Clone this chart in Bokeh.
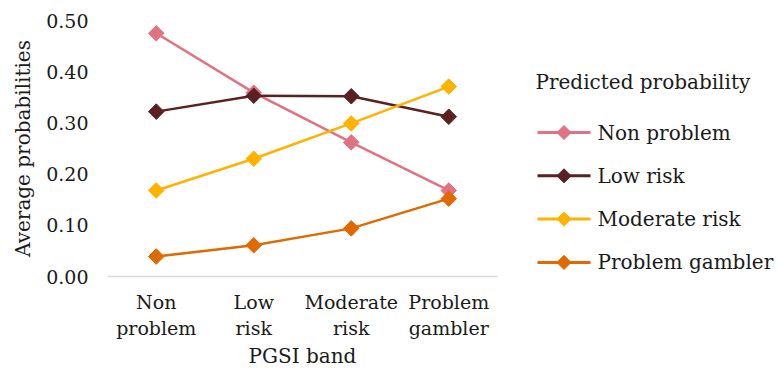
import math
from bokeh.plotting import figure
from bokeh.layouts import row
from bokeh.models import FixedTicker, Range1d
from bokeh.core.properties import value
from bokeh.embed import file_html
from bokeh.resources import INLINE

# PGSI bands on the x axis
bands = ["Non\nproblem", "Low\nrisk", "Moderate\nrisk", "Problem\ngambler"]

# Average predicted probabilities per band
non_problem = [0.475, 0.359, 0.262, 0.168]
low_risk = [0.322, 0.353, 0.352, 0.312]
moderate_risk = [0.168, 0.230, 0.299, 0.371]
problem_gambler = [0.039, 0.061, 0.094, 0.152]

series_names = ["Non problem", "Low risk", "Moderate risk", "Problem gambler"]
series_values = [non_problem, low_risk, moderate_risk, problem_gambler]
colors = ["#E07282", "#5A2120", "#FFB200", "#DE6A00"]

y_ticks = [0.0, 0.1, 0.2, 0.3, 0.4, 0.5]
y_tick_labels = ["0.00", "0.10", "0.20", "0.30", "0.40", "0.50"]

legend_title = "Predicted probability"

FONT = "DejaVu Serif"
TEXT_COLOR = "#1A1A1A"
x_pos = list(range(1, len(bands) + 1))

BORDER_TOP, BORDER_BOTTOM = 20, 95
PAGE_W, PAGE_H = 780, 371
CHART_W = 520

# ---- main chart -------------------------------------------------------
p = figure(width=CHART_W, height=PAGE_H, output_backend="svg", toolbar_location=None,
           x_range=Range1d(0.5, len(bands) + 0.5), y_range=Range1d(0, 0.5),
           min_border_left=107, min_border_right=23, min_border_top=BORDER_TOP,
           min_border_bottom=BORDER_BOTTOM)
p.outline_line_color = None
p.xgrid.visible = False
p.ygrid.visible = False

for vals, col in zip(series_values, colors):
    p.line(x_pos, vals, line_color=col, line_width=2.5)
    p.scatter(x_pos, vals, marker="square", size=11, angle=math.pi / 4,
              fill_color=col, line_color=col)

xa = p.xaxis[0]
xa.ticker = FixedTicker(ticks=x_pos)
xa.major_label_overrides = {i: b for i, b in zip(x_pos, bands)}
xa.axis_line_color = "#D9D9D9"
xa.axis_line_width = 1.5
xa.major_tick_line_color = None
xa.minor_tick_line_color = None
xa.major_label_text_font = FONT
xa.major_label_text_font_size = "19px"
xa.major_label_text_color = TEXT_COLOR
xa.major_label_standoff = 8
xa.axis_label = "PGSI band"
xa.axis_label_text_font = FONT
xa.axis_label_text_font_size = "20px"
xa.axis_label_text_font_style = "normal"
xa.axis_label_text_color = TEXT_COLOR
xa.axis_label_standoff = 2

ya = p.yaxis[0]
ya.ticker = FixedTicker(ticks=y_ticks)
ya.major_label_overrides = {t: l for t, l in zip(y_ticks, y_tick_labels)}
ya.axis_line_color = None
ya.major_tick_line_color = None
ya.minor_tick_line_color = None
ya.major_label_text_font = FONT
ya.major_label_text_font_size = "19px"
ya.major_label_text_color = TEXT_COLOR
ya.major_label_standoff = 13
ya.axis_label = "Average probabilities"
ya.axis_label_text_font = FONT
ya.axis_label_text_font_size = "20px"
ya.axis_label_text_font_style = "normal"
ya.axis_label_text_color = TEXT_COLOR
ya.axis_label_standoff = 8

# ---- legend panel: ranges map one unit to one page pixel (y grows down) ---
lg = figure(width=PAGE_W - CHART_W, height=PAGE_H, output_backend="svg",
            toolbar_location=None,
            x_range=Range1d(CHART_W, PAGE_W),
            y_range=Range1d(PAGE_H - BORDER_BOTTOM, BORDER_TOP),
            min_border_left=0, min_border_right=0,
            min_border_top=BORDER_TOP, min_border_bottom=BORDER_BOTTOM)
lg.axis.visible = False
lg.grid.visible = False
lg.outline_line_color = None

n = len(series_names)
row_y = [132 + 43.3 * i for i in range(n)]
lg.text(x=[535], y=[81], text=[legend_title], text_font=value(FONT),
        text_font_size="20px", text_color=TEXT_COLOR,
        text_align="left", text_baseline="middle")
lg.segment(x0=[537] * n, y0=row_y, x1=[590] * n, y1=row_y,
           line_color=colors, line_width=3)
lg.scatter(x=[563.5] * n, y=row_y, marker="square", size=10, angle=math.pi / 4,
           fill_color=colors, line_color=colors)
lg.text(x=[597] * n, y=row_y, text=series_names, text_font=value(FONT),
        text_font_size="20px", text_color=TEXT_COLOR,
        text_align="left", text_baseline="middle")

open("out.html", "w").write(file_html(row(p, lg), INLINE))
